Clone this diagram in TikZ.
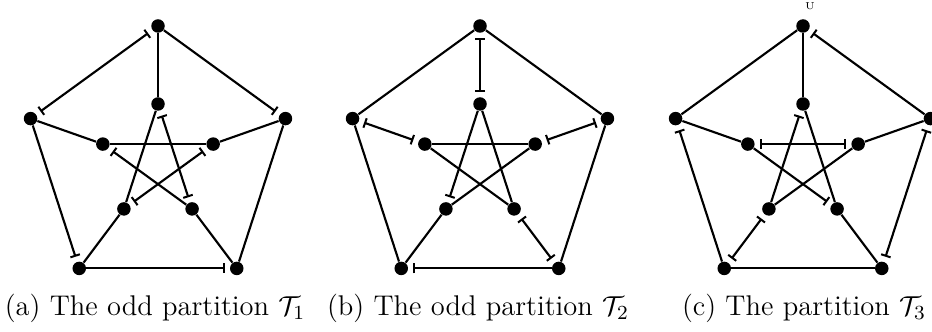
\documentclass[tikz,border=0pt]{standalone}
\usepackage{amsmath,amssymb}
\usepackage{tikz}
\usetikzlibrary{arrows.meta}

\begin{document}
\begin{tikzpicture}[x=0.4pt,y=0.4pt,
  v/.style={circle,fill,inner sep=0pt,minimum size=5.4pt},
  e/.style={line width=0.85pt},
  hd/.style={e,-{Bar[width=4pt,line width=0.8pt]},shorten >=2pt},
  tl/.style={e,{Bar[width=4pt,line width=0.8pt]}-,shorten <=2pt},
  tw/.style={e,{Bar[width=4pt,line width=0.8pt]}-{Bar[width=4pt,line width=0.8pt]},shorten <=2pt,shorten >=2pt},
  captxt/.style={anchor=base,font=\fontsize{11.4}{13}\selectfont}]
  \useasboundingbox (0,0) rectangle (932,-332);
  % the three Petersen graphs: outer ring o, inner star i
  \foreach \g/\cx in {a/158,b/480,c/803}{
    \foreach \i in {0,...,4}{
      \node[v] (o\g\i) at ({\cx+134*cos(90-72*\i)},{-160+134*sin(90-72*\i)}) {};
      \node[v] (i\g\i) at ({\cx+58*cos(90-72*\i)},{-162+58*sin(90-72*\i)}) {};
    }
  }
  % (a)
  \draw[hd] (oa0) -- (oa1);
  \draw[e] (oa1) -- (oa2);
  \draw[hd] (oa3) -- (oa2);
  \draw[hd] (oa4) -- (oa3);
  \draw[tw] (oa4) -- (oa0);
  \foreach \i in {0,...,4} \draw[e] (oa\i) -- (ia\i);
  \draw[tw] (ia0) -- (ia2);
  \draw[e] (ia0) -- (ia3);
  \draw[tw] (ia1) -- (ia3);
  \draw[e] (ia1) -- (ia4);
  \draw[hd] (ia2) -- (ia4);
  % (b)
  \draw[e] (ob0) -- (ob1);
  \draw[e] (ob1) -- (ob2);
  \draw[hd] (ob2) -- (ob3);
  \draw[e] (ob3) -- (ob4);
  \draw[e] (ob4) -- (ob0);
  \draw[tw] (ob0) -- (ib0);
  \draw[tw] (ob1) -- (ib1);
  \draw[tw] (ob2) -- (ib2);
  \draw[e] (ob3) -- (ib3);
  \draw[tw] (ob4) -- (ib4);
  \draw[e] (ib0) -- (ib2);
  \draw[hd] (ib0) -- (ib3);
  \draw[e] (ib1) -- (ib3);
  \draw[e] (ib1) -- (ib4);
  \draw[e] (ib2) -- (ib4);
  % (c)
  \draw[tl] (oc0) -- (oc1);
  \draw[tw] (oc1) -- (oc2);
  \draw[e] (oc2) -- (oc3);
  \draw[hd] (oc3) -- (oc4);
  \draw[e] (oc4) -- (oc0);
  \draw[e] (oc0) -- (ic0);
  \draw[e] (oc1) -- (ic1);
  \draw[e] (oc2) -- (ic2);
  \draw[tw] (oc3) -- (ic3);
  \draw[e] (oc4) -- (ic4);
  \draw[e] (ic0) -- (ic2);
  \draw[hd] (ic3) -- (ic0);
  \draw[e] (ic1) -- (ic3);
  \draw[tw] (ic4) -- (ic1);
  \draw[hd] (ic4) -- (ic2);
  \node[font=\fontsize{4}{5}\selectfont] (lu) at (810,-6) {U};
  % captions
  \node[captxt] (capa) at (155,-315) {(a) The odd partition $\mathcal{T}_1$};
  \node[captxt] (capb) at (478,-315) {(b) The odd partition $\mathcal{T}_2$};
  \node[captxt] (capc) at (804,-315) {(c) The partition $\mathcal{T}_3$};
\end{tikzpicture}
\end{document}
